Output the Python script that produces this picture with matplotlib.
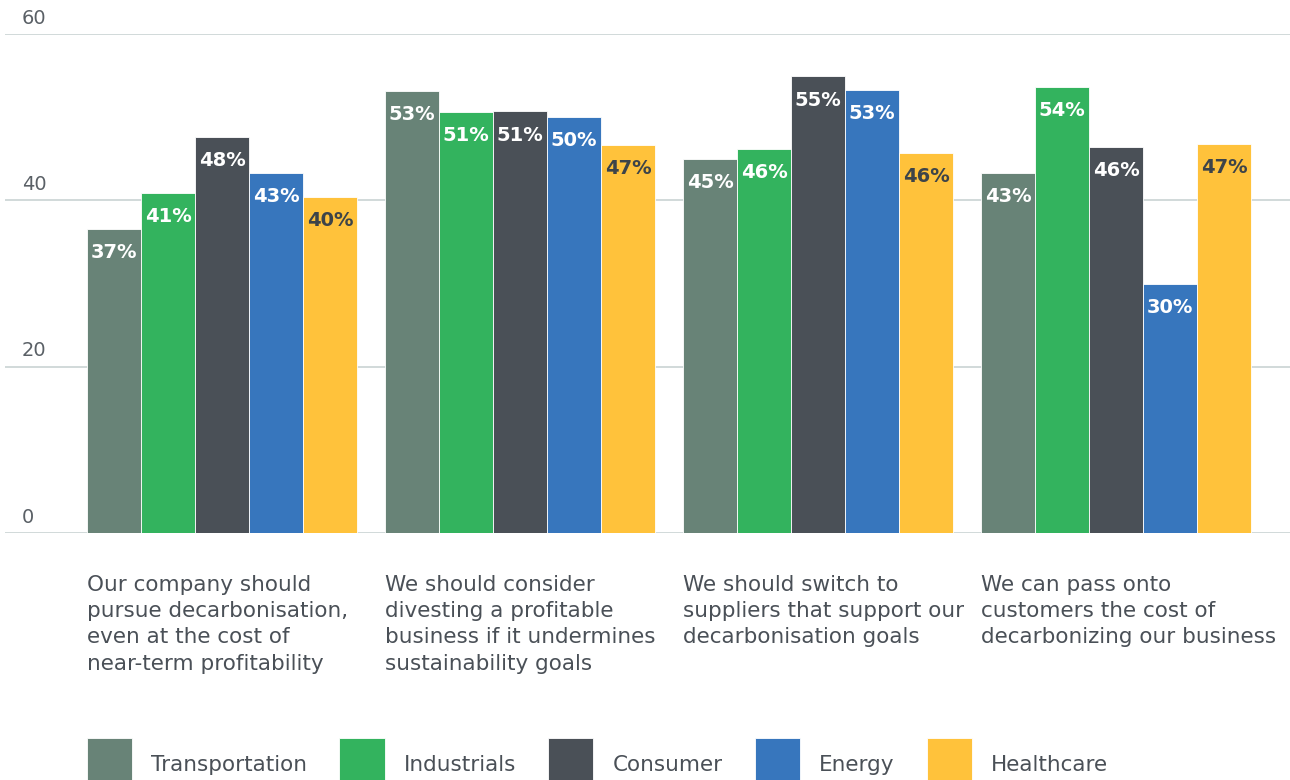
import matplotlib.pyplot as plt
import numpy as np

plt.rcParams['font.family'] = ['DejaVu Sans']

# data (bar heights, labels are rounded)
categories = [
    "Our company should\npursue decarbonisation,\neven at the cost of\nnear-term profitability",
    "We should consider\ndivesting a profitable\nbusiness if it undermines\nsustainability goals",
    "We should switch to\nsuppliers that support our\ndecarbonisation goals",
    "We can pass onto\ncustomers the cost of\ndecarbonizing our business",
]
sectors = ["Transportation", "Industrials", "Consumer", "Energy", "Healthcare"]
transportation = [36.6, 53.2, 45.0, 43.3]
industrials = [40.9, 50.6, 46.2, 53.6]
consumer = [47.6, 50.7, 54.9, 46.4]
energy = [43.3, 50.0, 53.3, 30.0]
healthcare = [40.4, 46.7, 45.7, 46.8]
yticks = [0, 20, 40, 60]

colors = ["#688377", "#33b35e", "#4a5057", "#3776bd", "#ffc23b"]
label_colors = ["white", "white", "white", "white", "#3d4449"]
series = [transportation, industrials, consumer, energy, healthcare]

fig = plt.figure(figsize=(12.9, 7.8), dpi=100)
ax = fig.add_axes([5 / 1290, 1 - 533 / 780, 1285 / 1290, 499 / 780])

x = np.arange(len(categories))
w = 54 / 298
for k, (vals, name) in enumerate(zip(series, sectors)):
    pos = x + (k - 2) * w
    bars = ax.bar(pos, vals, width=w, color=colors[k], edgecolor="white",
                  linewidth=0.6, label=name, zorder=3)
    for b, v in zip(bars, vals):
        ax.text(b.get_x() + b.get_width() / 2, v - 2.85, f"{v:.0f}%",
                ha="center", va="center", fontsize=14, fontweight="bold",
                color=label_colors[k], zorder=4)

ax.set_xlim(-0.728, 3.584)
ax.set_ylim(0, 60)
ax.set_yticks(yticks)
ax.set_yticklabels([])
ax.tick_params(left=False, bottom=False, labelbottom=False)
ax.grid(axis="y", color="#c9d3d3", linewidth=1.2, zorder=0)
for s in ax.spines.values():
    s.set_visible(False)

for t in yticks:
    ax.text(17 / 1285, t + 1.9, str(t), transform=ax.get_yaxis_transform(),
            ha="left", va="center", fontsize=14, color="#5a6066")

for i, c in enumerate(categories):
    ax.text(i - 2.5 * w, -0.084, c, transform=ax.get_xaxis_transform(),
            ha="left", va="top", fontsize=15.5, color="#4a5057",
            linespacing=1.39)

fig.legend(loc="upper left", bbox_to_anchor=(87 / 1290, 1 - 738 / 780),
           ncol=5, frameon=False, fontsize=15.5, borderpad=0, borderaxespad=0,
           handlelength=2.1, handleheight=3.5, handletextpad=0.88,
           columnspacing=1.5, labelcolor="#4a5057")

fig.savefig("out.png", dpi=100)
